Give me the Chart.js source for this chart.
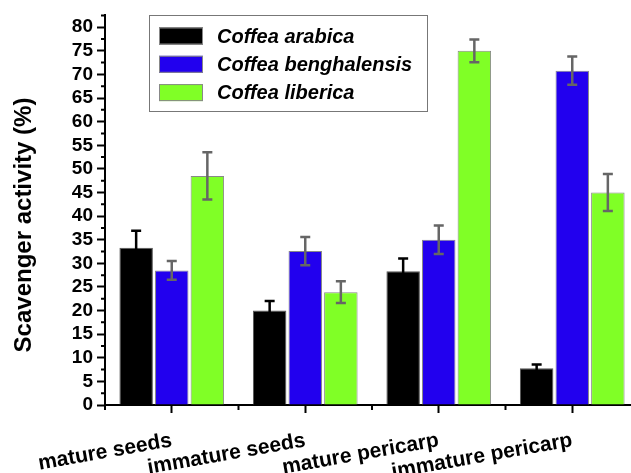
<!DOCTYPE html>
<html>
<head>
<meta charset="utf-8">
<script src="https://cdn.jsdelivr.net/npm/chart.js@4.4.1/dist/chart.umd.min.js"></script>
<style>
html, body { margin: 0; padding: 0; background: #fff; overflow: hidden; }
#wrap { width: 639px; height: 473px; }
</style>
</head>
<body>
<div id="wrap"><canvas id="myChart"></canvas></div>
<script>
var categories = ["mature seeds", "immature seeds", "mature pericarp", "immature pericarp"];
var seriesNames = ["Coffea arabica", "Coffea benghalensis", "Coffea liberica"];

var arabica = [33.3, 20.0, 28.3, 7.8];
var benghalensis = [28.5, 32.6, 35.0, 70.8];
var liberica = [48.5, 23.9, 75.0, 45.0];

var arabicaErr = [3.6, 2.0, 2.7, 0.8];
var benghalensisErr = [2.0, 3.0, 3.0, 3.0];
var libericaErr = [5.0, 2.3, 2.4, 3.9];

var yTicks = [0, 5, 10, 15, 20, 25, 30, 35, 40, 45, 50, 55, 60, 65, 70, 75, 80];
var yMinorTicks = [2.5, 7.5, 12.5, 17.5, 22.5, 27.5, 32.5, 37.5, 42.5, 47.5, 52.5, 57.5, 62.5, 67.5, 72.5, 77.5, 82.5];
var yTitle = "Scavenger activity (%)";

var FONT = "'Liberation Sans', Arial, sans-serif";

// error bars, minor ticks, axis title and legend box
var extras = {
  id: 'extras',
  afterDatasetsDraw: function (chart) {
    var ctx = chart.ctx;
    var y = chart.scales.y;
    chart.data.datasets.forEach(function (ds, d) {
      var meta = chart.getDatasetMeta(d);
      ctx.save();
      ctx.strokeStyle = ds.errColor;
      ctx.lineWidth = 2.5;
      meta.data.forEach(function (bar, i) {
        var top = y.getPixelForValue(ds.data[i] + ds.err[i]);
        var bot = y.getPixelForValue(ds.data[i] - ds.err[i]);
        ctx.beginPath();
        ctx.moveTo(bar.x, top); ctx.lineTo(bar.x, bot);
        ctx.moveTo(bar.x - 5, top); ctx.lineTo(bar.x + 5, top);
        ctx.moveTo(bar.x - 5, bot); ctx.lineTo(bar.x + 5, bot);
        ctx.stroke();
      });
      ctx.restore();
    });
  },
  afterDraw: function (chart) {
    var ctx = chart.ctx;
    var x = chart.scales.x, y = chart.scales.y;
    var area = chart.chartArea;
    ctx.save();
    ctx.strokeStyle = '#000';
    ctx.lineWidth = 2;
    ctx.beginPath();
    yMinorTicks.forEach(function (v) {
      var py = y.getPixelForValue(v);
      ctx.moveTo(area.left - 4, py); ctx.lineTo(area.left, py);
    });
    for (var i = 0; i <= categories.length; i++) {
      var px = x.getPixelForValue(i - 0.5);
      ctx.moveTo(px, area.bottom); ctx.lineTo(px, area.bottom + 5);
    }
    ctx.stroke();

    // y title
    ctx.save();
    ctx.translate(24, 225);
    ctx.rotate(-Math.PI / 2);
    ctx.fillStyle = '#000';
    ctx.font = "bold 24px " + FONT;
    ctx.textAlign = 'center';
    ctx.textBaseline = 'middle';
    ctx.fillText(yTitle, 0, 0);
    ctx.restore();

    // legend
    ctx.lineWidth = 1;
    ctx.strokeStyle = '#777';
    ctx.strokeRect(149.5, 15.5, 278, 96);
    chart.data.datasets.forEach(function (ds, d) {
      var cy = 36 + d * 28.3;
      ctx.fillStyle = ds.backgroundColor;
      ctx.fillRect(159, cy - 8.5, 44, 17);
      ctx.strokeStyle = '#888';
      ctx.strokeRect(159.5, cy - 8, 43, 16);
      ctx.fillStyle = '#000';
      ctx.font = "italic bold 20px " + FONT;
      ctx.textAlign = 'left';
      ctx.textBaseline = 'middle';
      ctx.fillText(ds.label, 217, cy + 1);
    });
    ctx.restore();
  }
};

var ctx = document.getElementById('myChart').getContext('2d');
var myChart = new Chart(ctx, {
  type: 'bar',
  data: {
    labels: categories,
    datasets: [{
      label: seriesNames[0],
      data: arabica,
      err: arabicaErr,
      errColor: '#000',
      backgroundColor: '#000000',
      borderColor: '#555',
      borderWidth: 1
    }, {
      label: seriesNames[1],
      data: benghalensis,
      err: benghalensisErr,
      errColor: '#666',
      backgroundColor: '#2200ee',
      borderColor: '#888',
      borderWidth: 1
    }, {
      label: seriesNames[2],
      data: liberica,
      err: libericaErr,
      errColor: '#666',
      backgroundColor: '#80ff26',
      borderColor: '#888',
      borderWidth: 1
    }]
  },
  options: {
    responsive: true,
    maintainAspectRatio: false,
    animation: false,
    layout: { padding: { top: 12, right: 0, bottom: 0, left: 0 } },
    categoryPercentage: 0.8,
    barPercentage: 0.94,
    plugins: {
      legend: { display: false },
      tooltip: { enabled: false }
    },
    scales: {
      x: {
        offset: true,
        grid: { display: true, offset: false, drawOnChartArea: false, drawTicks: true, tickLength: 8, tickWidth: 2, tickColor: '#000' },
        border: { display: true, color: '#000', width: 2 },
        ticks: { color: '#000', font: { family: FONT, size: 21, weight: 'bold' }, minRotation: 10, maxRotation: 10, autoSkip: false, padding: 15 },
        afterFit: function (s) { s.height = 68; }
      },
      y: {
        min: 0,
        max: 82.5,
        afterBuildTicks: function (s) { s.ticks = yTicks.map(function (v) { return { value: v }; }); },
        grid: { display: true, drawOnChartArea: false, drawTicks: true, tickLength: 8, tickWidth: 2, tickColor: '#000' },
        border: { display: true, color: '#000', width: 2 },
        ticks: { color: '#000', font: { family: FONT, size: 19, weight: 'bold' }, padding: 4, autoSkip: false },
        afterFit: function (s) { s.width = 105; }
      }
    }
  },
  plugins: [extras]
});
</script>
</body>
</html>
